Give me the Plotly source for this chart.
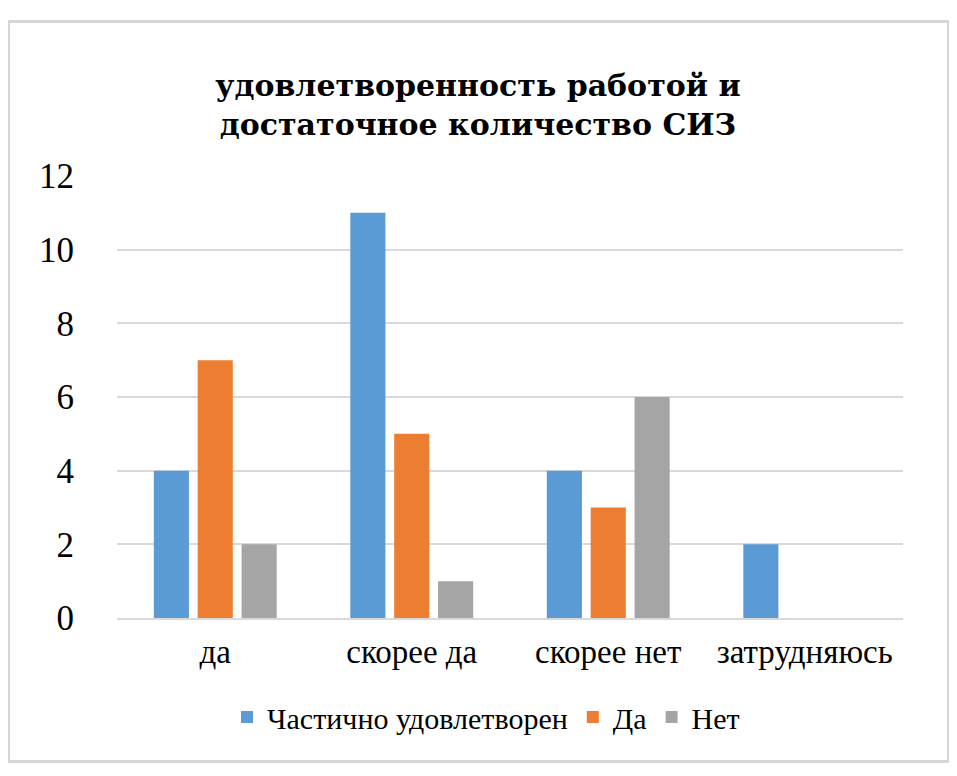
import plotly.graph_objects as go

categories = ["да", "скорее да", "скорее нет", "затрудняюсь"]
series_names = ["Частично удовлетворен", "Да", "Нет"]
partly = [4, 11, 4, 2]
yes = [7, 5, 3, 0]
no = [2, 1, 6, 0]
colors = ["#5B9BD5", "#ED7D31", "#A5A5A5"]
y_ticks = [0, 2, 4, 6, 8, 10, 12]
title_text = "удовлетворенность работой и<br>достаточное количество СИЗ"

OFF = 8  # page body margin
W, H = 957 - OFF, 776 - OFF
L, T = 117 - OFF, 176 - OFF
R = W - (903 - OFF)
B = H - (618 - OFF)

fig = go.Figure()
for name, vals, c in zip(series_names, [partly, yes, no], colors):
    fig.add_trace(go.Bar(x=categories, y=vals, name=name, marker_color=c,
                         marker_line_width=0))

pw = W - L - R
ph = H - T - B
def px_x(p):
    return (p - OFF - L) / pw
def px_y(p):
    return (H - B - (p - OFF)) / ph

fig.add_shape(type="rect", xref="paper", yref="paper",
              x0=px_x(8.5), x1=px_x(948.5), y0=px_y(761.5), y1=px_y(21.5),
              line=dict(color="#D6D6D6", width=3), layer="below")

serif = "Liberation Serif"
fig.update_layout(
    width=W, height=H,
    margin=dict(l=L, r=R, t=T, b=B, autoexpand=False),
    paper_bgcolor="white", plot_bgcolor="white",
    barmode="group", bargap=0.33, bargroupgap=0.2,
    font=dict(family=serif, color="#000000"),
    title=dict(text="<b>" + title_text + "</b>", x=(478 - OFF) / W, xanchor="center",
               xref="container", yref="container", y=1 - (96 - OFF) / H, yanchor="middle",
               font=dict(family="DejaVu Serif", size=30, color="#000000")),
    showlegend=True,
    legend=dict(orientation="h", x=px_x(486), xanchor="center",
                y=px_y(717), yanchor="middle",
                font=dict(family=serif, size=30, color="#000000"),
                bgcolor="rgba(0,0,0,0)", traceorder="normal"),
    xaxis=dict(showgrid=False, showline=True, linecolor="#D9D9D9", linewidth=1.5,
               ticks="", tickfont=dict(family=serif, size=33, color="#000000"),
               ticklabelstandoff=4),
    yaxis=dict(range=[0, 12], tickvals=y_ticks, showgrid=True, gridcolor="#D9D9D9",
               gridwidth=1.5, zeroline=False, showline=False, ticks="",
               tickfont=dict(family=serif, size=35, color="#000000"),
               ticklabelstandoff=42),
)

fig.write_html("out.html")
